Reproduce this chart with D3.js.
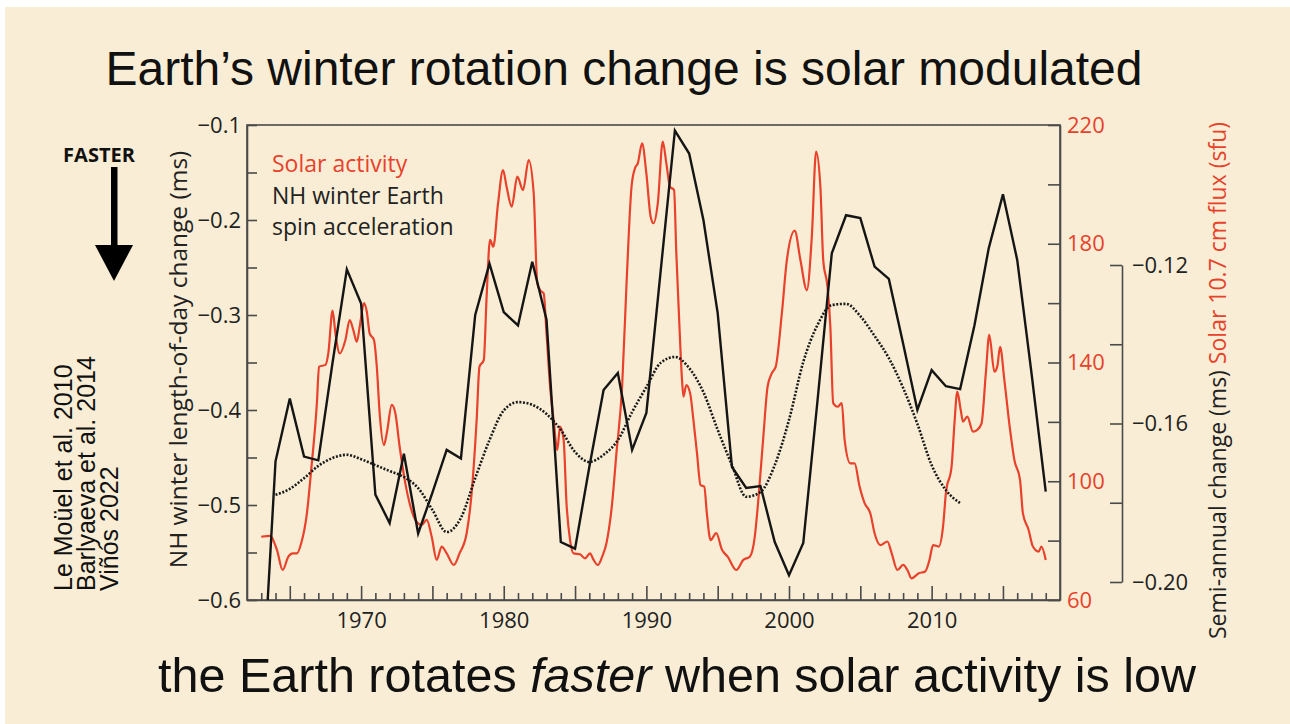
<!DOCTYPE html>
<html>

<head>
  <meta charset="utf-8">
  <title>Earth's winter rotation change is solar modulated</title>
  <script src="https://cdn.jsdelivr.net/npm/d3@7/dist/d3.min.js"></script>
  <style>
    body { margin: 0; background: #fff; }
    .chart text { font-family: "Open Sans", "DejaVu Sans", sans-serif; }
  </style>
</head>

<body>
  <svg width="1290" height="724" id="mainsvg"></svg>
  <script>
    // ---- data ----
    const lodYears = d3.range(1963, 2019);
    const lodValues = [
      -0.72, -0.454, -0.388, -0.449, -0.453, -0.35, -0.252, -0.288, -0.489, -0.519,
      -0.446, -0.530, -0.487, -0.442, -0.451, -0.300, -0.246, -0.297, -0.311, -0.244,
      -0.305, -0.539, -0.546, -0.46, -0.379, -0.361, -0.442, -0.403, -0.254, -0.106,
      -0.130, -0.200, -0.298, -0.460, -0.482, -0.480, -0.539, -0.574, -0.540, -0.39,
      -0.235, -0.195, -0.198, -0.249, -0.262, -0.330, -0.400, -0.358, -0.375, -0.378,
      -0.311, -0.230, -0.173, -0.242, -0.361, -0.486
    ];

    const semiYears = d3.range(1964, 2013);
    const semiValues = [
      -0.1780, -0.1765, -0.1738, -0.1707, -0.1687, -0.1679, -0.1690, -0.1705, -0.1720, -0.1735,
      -0.1763, -0.1818, -0.1874, -0.1838, -0.1738, -0.1642, -0.1567, -0.1546, -0.1553, -0.1576,
      -0.1616, -0.1672, -0.1697, -0.1679, -0.1642, -0.1571, -0.1508, -0.1447, -0.1432, -0.1460,
      -0.1521, -0.1616, -0.1705, -0.1785, -0.1773, -0.1705, -0.1591, -0.1445, -0.1351, -0.1301,
      -0.1298, -0.1329, -0.1379, -0.1435, -0.1510, -0.1601, -0.1705, -0.1768, -0.1801
    ];

    const solarYears = [
      1963.0, 1963.6, 1964.1, 1964.5, 1964.9, 1965.2, 1965.5, 1965.8, 1966.2, 1966.5,
      1966.9, 1967.05, 1967.5, 1967.7, 1968.0, 1968.2, 1968.5, 1968.9, 1969.2, 1969.45,
      1969.7, 1969.9, 1970.2, 1970.4, 1970.6, 1970.9, 1971.1, 1971.3, 1971.6, 1971.8,
      1972.15, 1972.4, 1972.7, 1973.1, 1973.4, 1973.8, 1974.25, 1974.6, 1974.95, 1975.3,
      1975.65, 1976.0, 1976.5, 1976.9, 1977.4, 1977.75, 1978.1, 1978.3, 1978.6, 1978.8,
      1979.04, 1979.27, 1979.6, 1979.95, 1980.2, 1980.56, 1980.95, 1981.35, 1981.75, 1982.1,
      1982.35, 1982.55, 1982.8, 1983.0, 1983.25, 1983.5, 1983.75, 1983.95, 1984.2, 1984.4,
      1984.65, 1984.9, 1985.35, 1985.7, 1986.05, 1986.3, 1986.6, 1986.9, 1987.2, 1987.6,
      1987.9, 1988.3, 1988.6, 1988.96, 1989.2, 1989.4, 1989.7, 1990.0, 1990.3, 1990.5,
      1990.8, 1991.15, 1991.4, 1991.66, 1991.94, 1992.1, 1992.3, 1992.5, 1992.6, 1992.8,
      1993.07, 1993.3, 1993.55, 1993.8, 1994.06, 1994.24, 1994.5, 1994.9, 1995.3, 1995.7,
      1996.3, 1996.8, 1997.25, 1997.6, 1997.83, 1998.2, 1998.5, 1998.8, 1999.07, 1999.5,
      1999.85, 2000.4, 2000.8, 2001.25, 2001.6, 2001.9, 2002.2, 2002.4, 2002.7, 2002.9,
      2003.1, 2003.4, 2003.7, 2003.9, 2004.3, 2004.6, 2004.95, 2005.3, 2005.7, 2006.0,
      2006.4, 2006.9, 2007.2, 2007.6, 2008.0, 2008.3, 2008.6, 2009.1, 2009.55, 2009.85,
      2010.1, 2010.5, 2010.8, 2011.0, 2011.4, 2011.6, 2011.8, 2012.04, 2012.2, 2012.5,
      2012.9, 2013.2, 2013.5, 2013.8, 2014.04, 2014.4, 2014.6, 2014.8, 2015.1, 2015.5,
      2015.8, 2016.2, 2016.4, 2016.8, 2017.1, 2017.5, 2017.7, 2018.0
    ];
    const solarFlux = [
      81.3, 81.6, 76.9, 70.1, 74.6, 75.7, 75.7, 79.1, 89.2, 103.8,
      126.3, 138.6, 139.2, 143.1, 157.5, 149.8, 143.1, 147.6, 154.3, 151,
      147, 152, 160, 157.1, 149.8, 147.6, 138.6, 122.9, 112.2, 116.2,
      125.7, 122.9, 111.7, 99.3, 92.6, 87, 85.3, 87, 81.3, 73.5,
      78, 75.7, 71.8, 75.7, 82.5, 96, 120.6, 138.6, 140.8, 162.2,
      181.3, 179, 193.6, 204.8, 199.2, 192.5, 202.6, 198.1, 208.2, 197,
      166.7, 164.4, 163.3, 149.8, 131.9, 120.6, 110.5, 118.4, 113.9, 92.6,
      80.2, 75.7, 75.4, 74, 75.7, 73.5, 71.8, 74.6, 79.1, 92.6,
      109.4, 131.9, 165.5, 199.2, 205.4, 207.1, 213.8, 203.7, 189.1, 186.9,
      193.6, 214.4, 207.1, 199.2, 198.1, 176.8, 154.3, 134.1, 128.5, 132.4,
      129.6, 120.6, 109.4, 98.7, 98.2, 89.2, 80.2, 82.5, 76.9, 74.6,
      70.1, 73.5, 74.6, 81.3, 92.6, 115, 131.9, 136.4, 138.6, 156.6,
      174.5, 184.4, 174.5, 164.4, 182.4, 211, 199.2, 174.5, 165.5, 152,
      126.3, 125.1, 126.3, 113.9, 106, 106, 98.2, 92.6, 89.2, 82.5,
      78.5, 79.7, 75.7, 70.1, 71.8, 70.1, 67.3, 69, 69.6, 73.5,
      78.5, 78, 84.7, 96, 105, 119.5, 130.2, 124, 120.1, 121.8,
      116.7, 117.3, 119.5, 136.4, 149.3, 136.9, 138.6, 145.3, 134.1, 117.3,
      107.2, 100.4, 89.2, 83.6, 78, 76.3, 78, 73.5
    ];

    const lodTicks = d3.range(-0.6, -0.099, 0.05);
    const fluxTicks = d3.range(60, 221, 20);
    const semiTicks = [-0.20, -0.18, -0.16, -0.14, -0.12];
    const yearTicks = d3.range(1963, 2019);

    const red = '#e8412c';
    const axisColor = '#4a4a4a';

    const svg = d3.select('#mainsvg');
    const width = +svg.attr('width');
    const height = +svg.attr('height');
    const margin = { top: 125, right: 230, bottom: 124, left: 247 };
    const innerWidth = width - margin.left - margin.right;
    const innerHeight = height - margin.top - margin.bottom;

    // parchment background with the thin white slide edge
    svg.append('rect').attr('width', width).attr('height', height).attr('fill', '#ffffff');
    svg.append('rect').attr('x', 5).attr('y', 7).attr('width', width - 5).attr('height', height - 7)
      .attr('fill', '#f9eed5');

    // slide title and caption
    svg.append('text')
      .attr('x', 624).attr('y', 85)
      .attr('text-anchor', 'middle')
      .style('font-family', '"Liberation Sans", Arial, sans-serif')
      .style('font-size', '48px').attr('fill', '#111')
      .text('Earth\u2019s winter rotation change is solar modulated');

    const caption = svg.append('text')
      .attr('x', 677).attr('y', 692)
      .attr('text-anchor', 'middle')
      .style('font-family', '"Liberation Sans", Arial, sans-serif')
      .style('font-size', '48.5px').attr('fill', '#111');
    caption.append('tspan').text('the Earth rotates ');
    caption.append('tspan').style('font-style', 'italic').text('faster');
    caption.append('tspan').text(' when solar activity is low');

    // FASTER arrow
    svg.append('text')
      .attr('x', 99).attr('y', 162).attr('text-anchor', 'middle')
      .style('font-family', '"Open Sans", sans-serif')
      .style('font-weight', 700).style('font-size', '20px')
      .attr('fill', '#111').text('FASTER');
    svg.append('rect').attr('x', 111).attr('y', 167).attr('width', 6.5).attr('height', 80).attr('fill', '#000');
    svg.append('path').attr('d', 'M95,245 L133,245 L114,281 Z').attr('fill', '#000');

    // references
    const refs = ['Le Mo\u00fcel et al. 2010', 'Barlyaeva et al. 2014', 'Vi\u00f1\u00f3s 2022'];
    svg.append('g').selectAll('text')
      .data(refs)
      .enter()
      .append('text')
      .attr('transform', (d, i) => `translate(${72 + i * 23}, 591) rotate(-90)`)
      .style('font-family', '"Liberation Sans", Arial, sans-serif')
      .style('font-size', '25px').attr('fill', '#111')
      .text(d => d);

    const g = svg.append('g').attr('class', 'chart')
      .attr('transform', `translate(${margin.left}, ${margin.top})`);

    // scales
    const xScale = d3.scaleLinear().domain([1962, 2019]).range([0, innerWidth]);
    const yLod = d3.scaleLinear().domain([-0.6, -0.1]).range([innerHeight, 0]);
    const yFlux = d3.scaleLinear().domain([60, 220]).range([innerHeight, 0]);
    const ySemi = d3.scaleLinear().domain([-0.20, -0.12]).range([582 - margin.top, 265 - margin.top]);

    g.append('clipPath').attr('id', 'plotclip')
      .append('rect').attr('width', innerWidth).attr('height', innerHeight);

    // frame
    g.append('rect').attr('width', innerWidth).attr('height', innerHeight)
      .attr('fill', 'none').attr('stroke', axisColor).attr('stroke-width', 1.6);

    const styleAxis = (sel, color) => {
      sel.selectAll('.domain').attr('stroke', axisColor).attr('stroke-width', 1.6);
      sel.selectAll('.tick line').attr('stroke', axisColor).attr('stroke-width', 1.6);
      sel.selectAll('.tick text')
        .style('font-family', '"Open Sans", sans-serif')
        .style('font-size', '22px').attr('fill', color);
      // minor ticks carry no label
      sel.selectAll('.tick text').filter(function () { return this.textContent === ''; }).remove();
    };

    // left axis
    const lodAxis = d3.axisLeft(yLod)
      .tickValues(lodTicks)
      .tickSizeInner(-10).tickSizeOuter(0).tickPadding(6)
      .tickFormat(d => Math.abs(d * 10 - Math.round(d * 10)) < 1e-6 ? d3.format('.1f')(d) : '');
    g.append('g').call(lodAxis).call(sel => styleAxis(sel, '#222'));

    // bottom axis
    const xAxis = d3.axisBottom(xScale)
      .tickValues(yearTicks)
      .tickSizeInner(-7).tickSizeOuter(0).tickPadding(12)
      .tickFormat(d => d % 10 === 0 ? d : '');
    const xAxisGroup = g.append('g').attr('transform', `translate(0, ${innerHeight})`).call(xAxis)
      .call(sel => styleAxis(sel, '#222'));
    xAxisGroup.selectAll('.tick line').filter(d => d % 5 === 0).attr('y2', -14);

    // red flux axis
    const fluxAxis = d3.axisRight(yFlux)
      .tickValues(fluxTicks)
      .tickSizeInner(-12).tickSizeOuter(0).tickPadding(7)
      .tickFormat(d => (d - 60) % 40 === 0 ? d : '');
    g.append('g').attr('transform', `translate(${innerWidth}, 0)`).call(fluxAxis)
      .call(sel => styleAxis(sel, red));

    // semi-annual axis
    const semiAxis = d3.axisRight(ySemi)
      .tickValues(semiTicks)
      .tickSizeInner(-12).tickSizeOuter(0).tickPadding(10)
      .tickFormat(d => [-0.20, -0.16, -0.12].some(v => Math.abs(v - d) < 1e-6) ? d3.format('.2f')(d) : '');
    g.append('g').attr('transform', `translate(${1122 - margin.left}, 0)`).call(semiAxis)
      .call(sel => styleAxis(sel, '#222'));

    // axis titles
    g.append('text')
      .attr('transform', `translate(${187 - margin.left}, ${innerHeight / 2 - 3}) rotate(-90)`)
      .attr('text-anchor', 'middle')
      .style('font-size', '24.5px').attr('fill', '#222')
      .text('NH winter length-of-day change (ms)');

    const rightTitle = g.append('text')
      .attr('transform', `translate(${1226 - margin.left}, ${639 - margin.top}) rotate(-90)`)
      .style('font-size', '23px');
    rightTitle.append('tspan').attr('fill', '#222').text('Semi-annual change (ms)  ');
    rightTitle.append('tspan').attr('fill', red).text('Solar 10.7 cm flux (sfu)');

    // curves
    const plot = g.append('g').attr('clip-path', 'url(#plotclip)');

    const solarData = solarYears.map((d, i) => ({ year: d, value: solarFlux[i] }));
    const lodData = lodYears.map((d, i) => ({ year: d, value: lodValues[i] }));
    const semiData = semiYears.map((d, i) => ({ year: d, value: semiValues[i] }));

    plot.append('path')
      .datum(solarData)
      .attr('fill', 'none').attr('stroke', red).attr('stroke-width', 2.2)
      .attr('stroke-linejoin', 'round')
      .attr('d', d3.line().x(d => xScale(d.year)).y(d => yFlux(d.value)).curve(d3.curveMonotoneX));

    plot.append('path')
      .datum(semiData)
      .attr('fill', 'none').attr('stroke', '#1a1a1a').attr('stroke-width', 2.6)
      .attr('stroke-dasharray', '2,1.6')
      .attr('d', d3.line().x(d => xScale(d.year)).y(d => ySemi(d.value)).curve(d3.curveMonotoneX));

    plot.append('path')
      .datum(lodData)
      .attr('fill', 'none').attr('stroke', '#151515').attr('stroke-width', 2.4)
      .attr('stroke-linejoin', 'miter')
      .attr('d', d3.line().x(d => xScale(d.year)).y(d => yLod(d.value)));

    // legend
    const legend = g.append('g').attr('transform', `translate(${272 - margin.left}, 0)`);
    const legendLines = [
      { text: 'Solar activity', color: red },
      { text: 'NH winter Earth', color: '#222' },
      { text: 'spin acceleration', color: '#222' }
    ];
    legend.selectAll('text')
      .data(legendLines)
      .enter()
      .append('text')
      .attr('y', (d, i) => 47 + i * 31.5)
      .style('font-size', '23px')
      .attr('fill', d => d.color)
      .text(d => d.text);
  </script>
</body>

</html>
